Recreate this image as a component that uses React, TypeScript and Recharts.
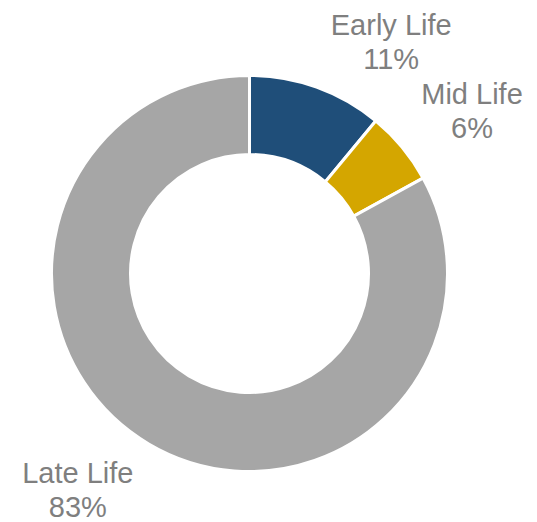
import { PieChart, Pie, Cell } from 'recharts'

const stages = ['Early Life', 'Mid Life', 'Late Life']
const shares = [11, 6, 83]
const colors = ['#1F4E79', '#D4A600', '#A6A6A6']

// nudges so the labels sit where the original puts them (angle in deg, radius in px past the ring)
const labelNudge = [
  { da: -12.8, dr: 65 },
  { da: -5.1, dr: 72 },
  { da: -6.6, dr: 86 },
]

const data = stages.map((name, i) => ({ name, value: shares[i] }))

const RAD = Math.PI / 180

function renderLabel(props: any) {
  const { cx, cy, midAngle, outerRadius, index, name, value } = props
  const n = labelNudge[index]
  const a = (midAngle + n.da) * RAD
  const r = outerRadius + n.dr
  const x = cx + r * Math.cos(a)
  const y = cy - r * Math.sin(a)
  return (
    <text
      x={x}
      y={y}
      textAnchor="middle"
      fill="#7F7F7F"
      fontSize={29}
      fontFamily="'Liberation Sans', Arial, sans-serif"
    >
      <tspan x={x} dy={-16.5}>{name}</tspan>
      <tspan x={x} dy={33.5}>{`${value}%`}</tspan>
    </text>
  )
}

export default function App() {
  return (
    <div style={{ position: 'absolute', left: 0, top: 0, width: 537, height: 522, background: '#fff' }}>
      <PieChart width={537} height={522} margin={{ top: 0, right: 0, bottom: 0, left: 0 }}>
        <Pie
          data={data}
          dataKey="value"
          nameKey="name"
          cx={249.5}
          cy={273.5}
          innerRadius={119}
          outerRadius={198}
          startAngle={90}
          endAngle={-270}
          stroke="#FFFFFF"
          strokeWidth={3}
          label={renderLabel}
          labelLine={false}
          isAnimationActive={false}
        >
          {data.map((d, i) => (
            <Cell key={d.name} fill={colors[i]} />
          ))}
        </Pie>
      </PieChart>
    </div>
  )
}
